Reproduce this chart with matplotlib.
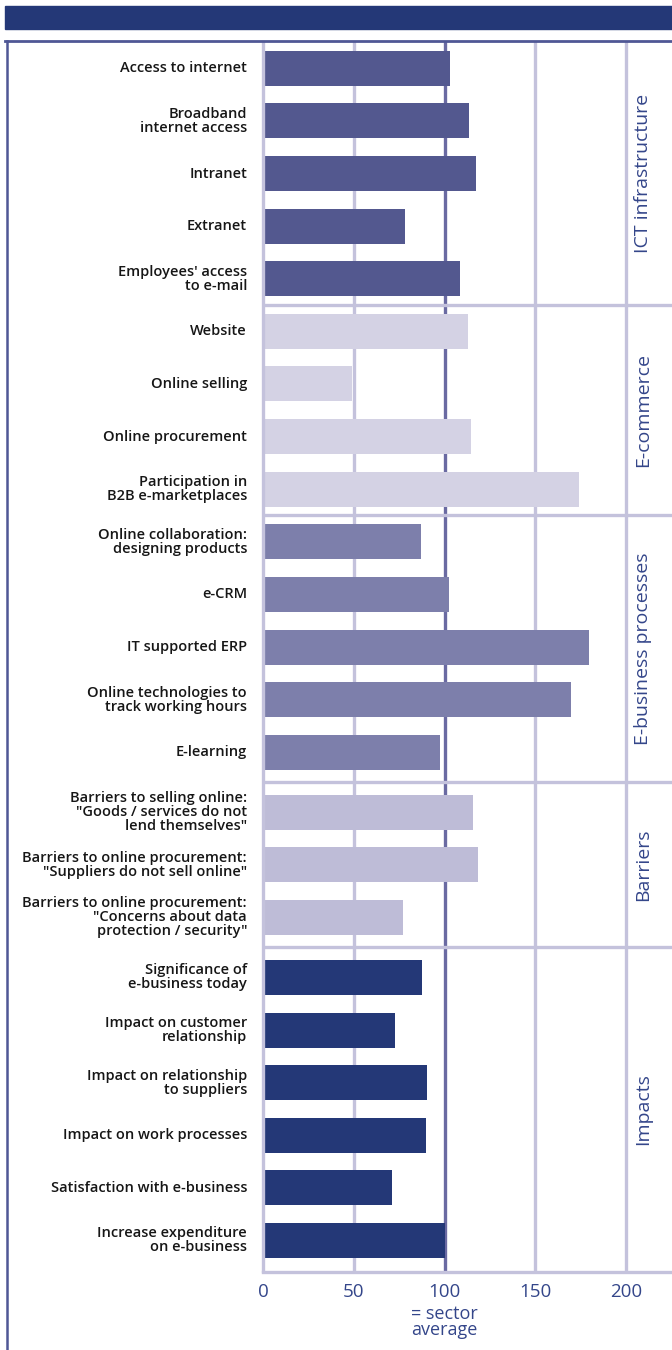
import matplotlib.pyplot as plt
from matplotlib.patches import Rectangle
from matplotlib.lines import Line2D

# Indicator labels, top to bottom
labels = [
    "Access to internet",
    "Broadband\ninternet access",
    "Intranet",
    "Extranet",
    "Employees' access\nto e-mail",
    "Website",
    "Online selling",
    "Online procurement",
    "Participation in\nB2B e-marketplaces",
    "Online collaboration:\ndesigning products",
    "e-CRM",
    "IT supported ERP",
    "Online technologies to\ntrack working hours",
    "E-learning",
    "Barriers to selling online:\n\"Goods / services do not\nlend themselves\"",
    "Barriers to online procurement:\n\"Suppliers do not sell online\"",
    "Barriers to online procurement:\n\"Concerns about data\nprotection / security\"",
    "Significance of\ne-business today",
    "Impact on customer\nrelationship",
    "Impact on relationship\nto suppliers",
    "Impact on work processes",
    "Satisfaction with e-business",
    "Increase expenditure\non e-business",
]

# Index values (100 = sector average)
values = [103, 113.5, 117.5, 78, 108.5,
          113, 49, 114.5, 174,
          87, 102.5, 180, 170, 97.5,
          115.5, 118.5, 77,
          87.5, 72.5, 90.5, 90, 71, 100]

groups = ["ICT infrastructure", "E-commerce", "E-business processes",
          "Barriers", "Impacts"]
group_sizes = [5, 4, 5, 3, 6]

group_colors = ["#53588f", "#d4d2e4", "#7d7fab", "#bebcd7", "#243877"]
extra_gap = [0, 0, 0, 0.14, 0.14]   # additional space before each group

navy = "#243877"
lav = "#c4c2dc"
text_blue = "#34468a"

# bar positions (row index plus group spacing)
pos, colors = [], []
y = 0.0
for g, n in enumerate(group_sizes):
    if g > 0:
        y += 1 + extra_gap[g]
    for i in range(n):
        if i > 0:
            y += 1
        pos.append(y)
        colors.append(group_colors[g])

top_lim = pos[0] - 0.5
bottom_lim = pos[-1] + 0.59

W, H = 672, 1350
fig = plt.figure(figsize=(W / 100, H / 100), dpi=100)

ax = fig.add_axes([263.3 / W, (H - 1271.5) / H, (W - 263.3) / W, (1271.5 - 42) / H])
ax.set_xlim(0, (W - 263.3) / 1.812)
ax.set_ylim(bottom_lim, top_lim)

# grid lines
for gx in [50, 150, 200]:
    ax.axvline(gx, color=lav, lw=2.4, zorder=1)
ax.axvline(100, color="#6a6aa2", lw=2.4, zorder=1)

# group dividers
starts = [0]
for n in group_sizes:
    starts.append(starts[-1] + n)
bounds = [top_lim]
for g in range(1, len(group_sizes)):
    yb = (pos[starts[g] - 1] + pos[starts[g]]) / 2
    bounds.append(yb)
    ax.axhline(yb, color=lav, lw=2.4, zorder=1)
bounds.append(bottom_lim)

ax.barh(pos, values, height=0.665, color=colors, zorder=2)

# group names in the right column
for g, name in enumerate(groups):
    yc = (bounds[g] + bounds[g + 1]) / 2
    ax.text(209.5, yc, name, rotation=90, ha="center", va="center",
            color=text_blue, fontsize=14, family="Open Sans", zorder=3)

# indicator labels
for lab, yp in zip(labels, pos):
    ax.annotate(lab, xy=(0, yp), xycoords=("axes fraction", "data"),
                xytext=(-11.7, 0), textcoords="offset points",
                ha="right", va="center", multialignment="right",
                fontsize=10.5, family="Open Sans", fontweight="semibold",
                color="#161616", linespacing=1.0)

ax.set_yticks([])
ax.set_xticks([0, 50, 100, 150, 200])
ax.tick_params(axis="x", length=0, pad=8, labelsize=13.5, labelcolor=text_blue)
for t in ax.get_xticklabels():
    t.set_family("Open Sans")

for side in ["top", "right"]:
    ax.spines[side].set_visible(False)
for side in ["left", "bottom"]:
    ax.spines[side].set_color(lav)
    ax.spines[side].set_linewidth(2.4)

ax.annotate("= sector\naverage", xy=(100, 0), xycoords=("data", "axes fraction"),
            xytext=(0, -24), textcoords="offset points", ha="center", va="top",
            fontsize=13, family="Open Sans", color=text_blue, linespacing=0.9)

# header band and frame
fig.patches.append(Rectangle((5 / W, 1 - 29 / H), 1 - 5 / W, 23 / H,
                             transform=fig.transFigure, color=navy, zorder=0))
fig.add_artist(Line2D([5 / W, 1], [1 - 41.3 / H] * 2, transform=fig.transFigure,
                      color="#4f5795", lw=2))
fig.add_artist(Line2D([6.5 / W] * 2, [0, 1 - 41.3 / H], transform=fig.transFigure,
                      color="#4f5795", lw=1.8))

fig.savefig("out.png", dpi=100)
